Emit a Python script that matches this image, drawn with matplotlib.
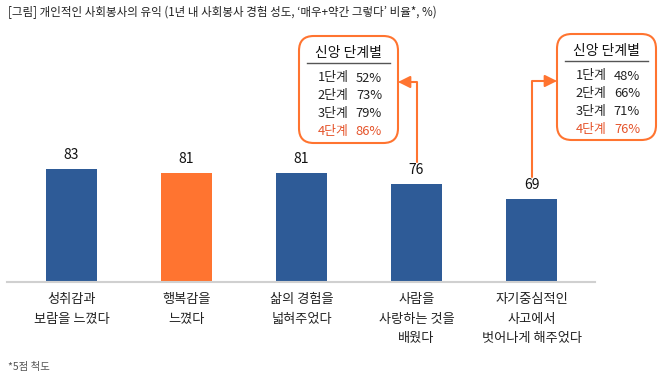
import matplotlib
matplotlib.use('Agg')
import matplotlib.pyplot as plt
from matplotlib.patches import FancyBboxPatch

plt.rcParams['font.family'] = ['Noto Sans CJK KR', 'DejaVu Sans']

categories = ['성취감과\n보람을 느꼈다', '행복감을\n느꼈다', '삶의 경험을\n넓혀주었다',
              '사람을\n사랑하는 것을\n배웠다', '자기중심적인\n사고에서\n벗어나게 해주었다']
values = [83, 81, 81, 76, 69]
highlight = 1  # 행복감을 느꼈다

stage_labels = ['1단계', '2단계', '3단계', '4단계']
stage_vals_love = [52, 73, 79, 86]      # 사람을 사랑하는 것을 배웠다
stage_vals_self = [48, 66, 71, 76]      # 자기중심적인 사고에서 벗어나게 해주었다

title = "[그림] 개인적인 사회봉사의 유익 (1년 내 사회봉사 경험 성도, ‘매우+약간 그렇다’ 비율*, %)"
note = "*5점 척도"

BLUE = '#2E5B97'
ORANGE = '#FF7430'
RED = '#E5532A'
W, H = 669, 381


def fp(x, y):
    # pixel (from top-left) -> figure fraction
    return (x / W, 1 - y / H)


fig = plt.figure(figsize=(W / 100, H / 100), dpi=100)
ax = fig.add_axes([7 / W, 1 - 282 / H, (595 - 7) / W, (282 - 30) / H])

x = list(range(len(values)))
colors = [ORANGE if i == highlight else BLUE for i in x]
ax.bar(x, values, width=0.44, color=colors)
for i, v in zip(x, values):
    ax.text(i, v + 3, str(v), ha='center', va='bottom', fontsize=10, color='#111111')

ax.set_xlim(-0.561, 4.552)
ax.set_ylim(30, 147.8)
for s in ['top', 'right', 'left']:
    ax.spines[s].set_visible(False)
ax.spines['bottom'].set_color('#D0D0D0')
ax.spines['bottom'].set_linewidth(1.5)
ax.set_yticks([])
ax.set_xticks(x)
ax.set_xticklabels(categories, fontsize=9.5, color='#222222', linespacing=1.65, va='top')
ax.tick_params(axis='x', length=0, pad=8)

fig.text(*fp(8, 12), title, fontsize=8.3, color='#222222', va='center', ha='left')
fig.text(*fp(8, 367), note, fontsize=7.5, color='#555555', va='center', ha='left')


def stage_box(left, top, right, bottom, vals, bar_i, tip_x, tip_y):
    x0, y0 = fp(left, bottom)
    x1, y1 = fp(right, top)
    box = FancyBboxPatch((x0, y0), x1 - x0, y1 - y0,
                         boxstyle='round,pad=0,rounding_size=0.022',
                         transform=fig.transFigure, facecolor='white',
                         edgecolor=ORANGE, linewidth=1.5, mutation_aspect=W / H)
    fig.add_artist(box)
    cx = (left + right) / 2
    fig.text(*fp(cx, top + 17), '신앙 단계별', fontsize=10, ha='center', va='center', color='#111111')
    fig.add_artist(plt.Line2D([fp(left + 8, 0)[0], fp(right - 8, 0)[0]],
                              [fp(0, top + 27)[1]] * 2, transform=fig.transFigure,
                              color='#555555', linewidth=1))
    for k, (lab, v) in enumerate(zip(stage_labels, vals)):
        yy = top + 42 + k * 17.7
        c = RED if k == len(vals) - 1 else '#222222'
        fig.text(*fp(left + 34, yy), lab, fontsize=9.3, ha='center', va='center', color=c)
        fig.text(*fp(left + 70, yy), f'{v}%', fontsize=9.3, ha='center', va='center', color=c)
    ax.annotate('', xy=fp(tip_x, tip_y), xycoords='figure fraction',
                xytext=(bar_i, values[bar_i] + 10), textcoords='data',
                arrowprops=dict(arrowstyle='-|>,head_length=0.6,head_width=0.3',
                                connectionstyle='angle,angleA=90,angleB=0,rad=0',
                                color=ORANGE, lw=1.5, shrinkA=0, shrinkB=0,
                                mutation_scale=12),
                annotation_clip=False)


stage_box(299, 36, 398, 143, stage_vals_love, 3, 398, 82)
stage_box(557, 34, 656, 140, stage_vals_self, 4, 557, 81)

fig.savefig('out.png', dpi=100)
